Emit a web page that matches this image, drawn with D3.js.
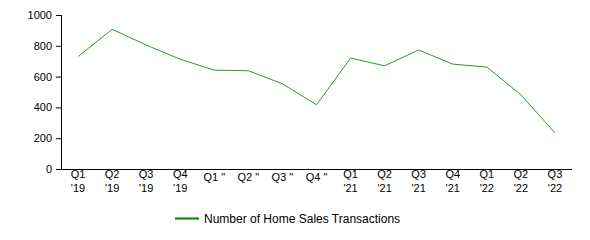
<!DOCTYPE html>
<html>
<head>
<meta charset="utf-8">
<script src="https://cdn.jsdelivr.net/npm/d3@7"></script>
<style>
  body { margin: 0; background: #fff; }
  text { font-family: Arial, "Liberation Sans", sans-serif; }
</style>
</head>
<body>
<div id="chart"></div>
<script>
// Quarter labels: first and second line
let quarters = ['Q1', 'Q2', 'Q3', 'Q4', 'Q1 "', 'Q2 "', 'Q3 "', 'Q4 "', 'Q1', 'Q2', 'Q3', 'Q4', 'Q1', 'Q2', 'Q3'];
let years = ["'19", "'19", "'19", "'19", '', '', '', '', "'21", "'21", "'21", "'21", "'22", "'22", "'22"];
let transactions = [730, 907, 805, 713, 642, 638, 553, 417, 720, 670, 773, 681, 662, 482, 234];
let yTicks = [0, 200, 400, 600, 800, 1000];
let seriesName = 'Number of Home Sales Transactions';

let width = 590,
    height = 240,
    margin = {top: 15, right: 18, bottom: 71, left: 61};

let chartWidth = width - margin.left - margin.right,
    chartHeight = height - margin.top - margin.bottom;

let svg = d3.select('#chart')
    .append('svg')
    .attr('width', width)
    .attr('height', height);

let canvas = svg.append('g')
    .attr('transform', 'translate(' + margin.left + ',' + margin.top + ')');

let x = d3.scalePoint()
    .domain(d3.range(transactions.length))
    .range([0, chartWidth])
    .padding(0.5);

let y = d3.scaleLinear()
    .domain([0, 1000])
    .range([chartHeight, 0]);

// Line
let line = d3.line()
    .x(function(d, i) { return x(i); })
    .y(function(d) { return y(d); });

canvas.append('path')
    .datum(transactions)
    .attr('fill', 'none')
    .attr('stroke', '#2a9a2a')
    .attr('stroke-width', 1)
    .attr('d', line);

// Y axis
let yAxis = d3.axisLeft(y).tickValues(yTicks).tickFormat(d3.format('d')).tickSize(5).tickPadding(4);
let yg = canvas.append('g').call(yAxis);
yg.select('.domain').attr('d', 'M0.5,0V' + (chartHeight + 0.5));
yg.selectAll('text').style('font-size', '11px').attr('fill', '#000');
yg.selectAll('line').attr('stroke', '#000');

// X axis line
canvas.append('line')
    .attr('x1', 0)
    .attr('x2', chartWidth)
    .attr('y1', chartHeight + 0.5)
    .attr('y2', chartHeight + 0.5)
    .attr('stroke', '#000');

// X labels (two lines, single-line ones centred between them)
let xl = canvas.selectAll('text.xl')
    .data(quarters)
    .enter()
    .append('text')
    .attr('class', 'xl')
    .attr('text-anchor', 'middle')
    .style('font-size', '11px')
    .attr('fill', '#000');

xl.each(function(d, i) {
    let t = d3.select(this);
    let cx = x(i);
    if (years[i]) {
        t.append('tspan').attr('x', cx).attr('y', chartHeight + 9).text(d);
        t.append('tspan').attr('x', cx).attr('y', chartHeight + 23).text(years[i]);
    } else {
        t.append('tspan').attr('x', cx).attr('y', chartHeight + 12).text(d);
    }
});

// Legend
let legend = svg.append('g')
    .attr('transform', 'translate(175,218)');

legend.append('line')
    .attr('x1', 0)
    .attr('x2', 24)
    .attr('y1', 0.5)
    .attr('y2', 0.5)
    .attr('stroke', '#008000')
    .attr('stroke-width', 2);

legend.append('text')
    .attr('x', 29)
    .attr('y', 4.5)
    .style('font-size', '12px')
    .attr('fill', '#000')
    .text(seriesName);
</script>
</body>
</html>
